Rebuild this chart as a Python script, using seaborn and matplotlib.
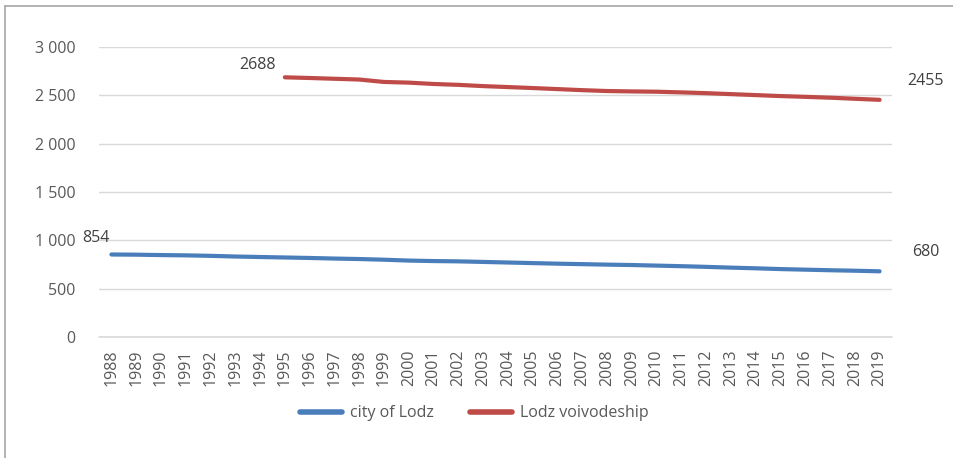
import pandas as pd
import matplotlib
matplotlib.use("Agg")
import matplotlib.pyplot as plt
from matplotlib.lines import Line2D
from matplotlib.ticker import FuncFormatter
import seaborn as sns

years = list(range(1988, 2020))
city = [854, 852, 848, 845, 840, 833, 828, 823, 818, 812, 807, 800, 791, 786,
        783, 777, 771, 765, 759, 754, 749, 745, 739, 733, 726, 718, 711, 703,
        697, 691, 686, 680]
voiv_years = list(range(1995, 2020))
voiv = [2688, 2681, 2673, 2665, 2640, 2633, 2619, 2610, 2597, 2587, 2577, 2566,
        2555, 2546, 2542, 2539, 2532, 2524, 2514, 2504, 2494, 2486, 2477, 2466,
        2455]
series_names = ["city of Lodz", "Lodz voivodeship"]
colors = ["#4A7EBB", "#BE4B48"]

sns.set_theme(style="white")
plt.rcParams["font.family"] = ["Open Sans", "DejaVu Sans"]
txt = "#595959"

df_city = pd.DataFrame({"year": years, "value": city})
df_voiv = pd.DataFrame({"year": voiv_years, "value": voiv})

fig = plt.figure(figsize=(9.54, 4.58), dpi=100)
ax = fig.add_axes([0.1038, 0.2642, 0.935 - 0.1038, 0.897 - 0.2642])

sns.lineplot(data=df_city, x="year", y="value", ax=ax, color=colors[0], lw=3.0,
             solid_capstyle="round")
sns.lineplot(data=df_voiv, x="year", y="value", ax=ax, color=colors[1], lw=3.0,
             solid_capstyle="round")

ax.set_xlim(years[0] - 0.5, years[-1] + 0.5)
ax.set_ylim(0, 3000)
ax.set_yticks(range(0, 3001, 500))
ax.yaxis.set_major_formatter(FuncFormatter(lambda v, p: f"{int(v):,}".replace(",", " ")))
ax.set_xticks(years)
ax.set_xticklabels([str(y) for y in years], rotation=90)
ax.tick_params(axis="both", length=0, labelsize=11.5, labelcolor=txt)
ax.tick_params(axis="y", pad=17)
ax.tick_params(axis="x", pad=9)
ax.set_xlabel("")
ax.set_ylabel("")
ax.grid(axis="y", color="#D9D9D9", lw=1)
ax.axhline(0, color="#D9D9D9", lw=1.2, clip_on=False, zorder=0)
ax.set_axisbelow(True)
for s in ax.spines.values():
    s.set_visible(False)

# end point labels
lab = dict(fontsize=11.5, color="#404040", ha="center")
ax.annotate(str(voiv[0]), (voiv_years[0], voiv[0]), xytext=(-20, 6),
            textcoords="offset points", **lab)
ax.annotate(str(voiv[-1]), (voiv_years[-1], voiv[-1]), xytext=(33, 11),
            textcoords="offset points", **lab)
ax.annotate(str(city[0]), (years[0], city[0]), xytext=(-11, 9),
            textcoords="offset points", **lab)
ax.annotate(str(city[-1]), (years[-1], city[-1]), xytext=(33, 11),
            textcoords="offset points", **lab)

handles = [Line2D([0], [0], color=c, lw=4, solid_capstyle="round") for c in colors]
fig.legend(handles, series_names, loc="center", bbox_to_anchor=(0.497, 0.098),
           ncol=2, frameon=False, fontsize=11.5, labelcolor=txt,
           handlelength=2.6, columnspacing=2.3, handletextpad=0.5)

# outer frame (left and top edges visible)
fig.add_artist(Line2D([5 / 954, 5 / 954], [0, 1 - 6 / 458], color="#A6A6A6", lw=1.2))
fig.add_artist(Line2D([5 / 954, 1], [1 - 6 / 458, 1 - 6 / 458], color="#A6A6A6", lw=1.2))

fig.savefig("out.png", dpi=100)
